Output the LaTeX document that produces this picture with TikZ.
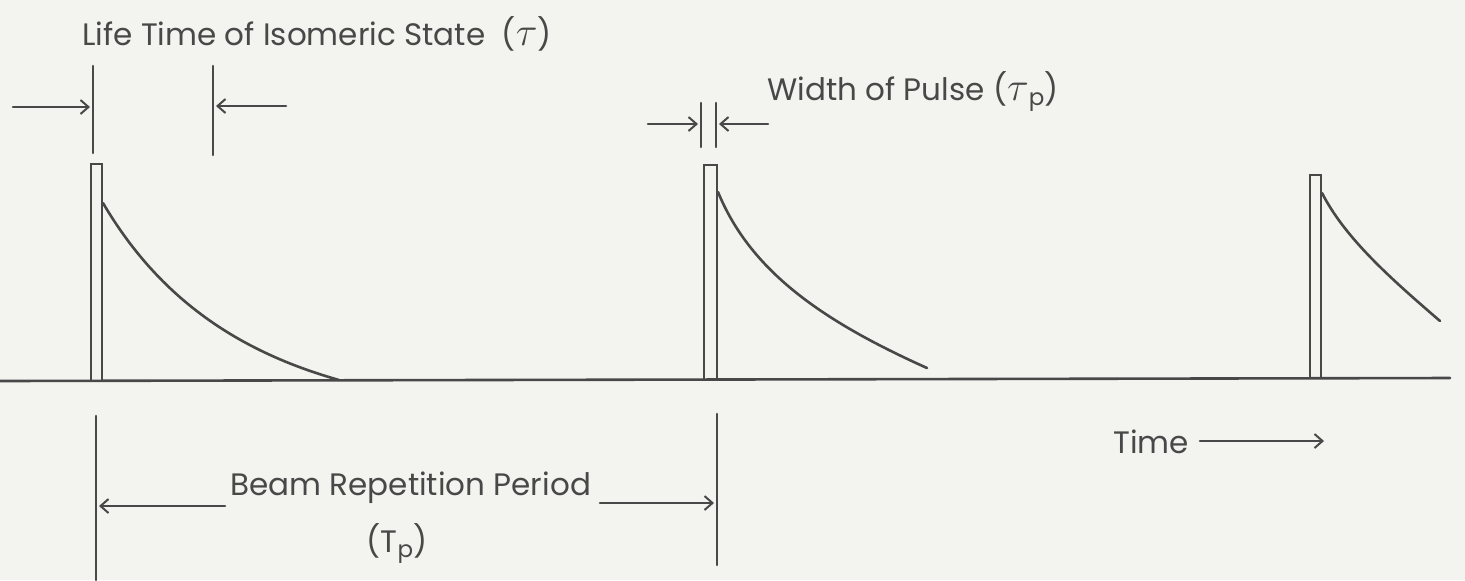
\documentclass[tikz,border=0pt]{standalone}
\usepackage{fontspec}
\setmainfont{Poppins}
\usetikzlibrary{arrows.meta}
\definecolor{ink}{HTML}{484848}
\definecolor{paper}{HTML}{F3F3EF}
\tikzset{
  line/.style={draw=ink, line width=1.3pt, line cap=round},
  thin/.style={draw=ink, line width=1pt},
  dimarrow/.style={line, -{Straight Barb[length=4pt,width=7pt,line width=1pt]}},
  lbl/.style={text=ink, font=\fontsize{15.5}{17}\selectfont, inner sep=0pt, anchor=base west},
}
\newcommand{\subp}{\raisebox{-0.35ex}{\fontsize{11.5}{12}\selectfont p}}
\newcommand{\bigtau}{\scalebox{1.4}{$\tau$}}
\begin{document}
\begin{tikzpicture}[x=0.5pt,y=-0.5pt]
\fill[paper] (0,0) rectangle (1465,580);
\useasboundingbox (0,0) rectangle (1465,580);
% baseline
\coordinate (b0) at (0,381);
\coordinate (b1) at (1450,378);
\draw[line] (b0) -- (b1);
% pulses
\draw[thin] (91,381) -- (91,164) -- (102,164) -- (102,381);
\draw[thin] (704,380) -- (704,165) -- (717,165) -- (717,380);
\draw[thin] (1310,378) -- (1310,175) -- (1321,175) -- (1321,378);
% decay curves
\coordinate (d1s) at (103,203);
\coordinate (d1e) at (339,380);
\draw[line] (d1s) .. controls (160,300) and (240,352) .. (d1e);
\coordinate (d2s) at (718,192);
\coordinate (d2e) at (927,368);
\draw[line] (d2s) .. controls (750,270) and (820,320) .. (d2e);
\coordinate (d3s) at (1322,193);
\coordinate (d3e) at (1440,321);
\draw[line] (d3s) .. controls (1345,238) and (1390,278) .. (d3e);
% life time dimension
\coordinate (lt1a) at (93,66);
\coordinate (lt1b) at (93,153);
\coordinate (lt2a) at (213,66);
\coordinate (lt2b) at (213,155);
\draw[line] (lt1a) -- (lt1b);
\draw[line] (lt2a) -- (lt2b);
\coordinate (la0) at (13,107);
\coordinate (la1) at (90,107);
\coordinate (ra0) at (286,106);
\coordinate (ra1) at (216,106);
\draw[dimarrow] (la0) -- (la1);
\draw[dimarrow] (ra0) -- (ra1);
\node[lbl] (life) at (82,45) {Life Time of Isomeric State\ \ (\bigtau)};
% width of pulse dimension
\coordinate (w1a) at (701,103);
\coordinate (w1b) at (701,147);
\coordinate (w2a) at (716,103);
\coordinate (w2b) at (716,147);
\draw[line] (w1a) -- (w1b);
\draw[line] (w2a) -- (w2b);
\coordinate (wa0) at (648,124);
\coordinate (wa1) at (698,124);
\coordinate (wb0) at (768,124);
\coordinate (wb1) at (719,124);
\draw[dimarrow] (wa0) -- (wa1);
\draw[dimarrow] (wb0) -- (wb1);
\node[lbl] (width) at (767,100) {Width of Pulse (\bigtau\subp)};
% beam repetition period
\coordinate (p1a) at (96,416);
\coordinate (p1b) at (96,580);
\coordinate (p2a) at (717,414);
\coordinate (p2b) at (717,565);
\draw[line] (p1a) -- (p1b);
\draw[line] (p2a) -- (p2b);
\coordinate (pa0) at (225,506);
\coordinate (pa1) at (99,506);
\coordinate (pb0) at (600,503);
\coordinate (pb1) at (714,503);
\draw[dimarrow] (pa0) -- (pa1);
\draw[dimarrow] (pb0) -- (pb1);
\node[lbl] (beam) at (230,495) {Beam Repetition Period};
\node[lbl, anchor=base] (tp) at (397,552) {(T\subp)};
% time
\node[lbl] (time) at (1113,453) {Time};
\coordinate (ta0) at (1200,441);
\coordinate (ta1) at (1324,441);
\draw[dimarrow] (ta0) -- (ta1);
\end{tikzpicture}
\end{document}
